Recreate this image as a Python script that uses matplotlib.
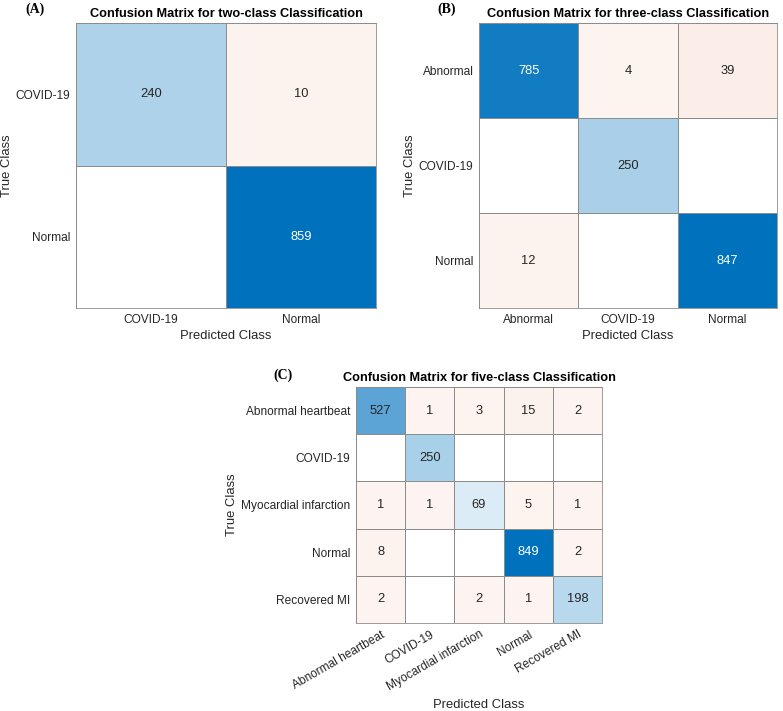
import matplotlib
matplotlib.use('Agg')
import matplotlib.pyplot as plt
import numpy as np

plt.rcParams['font.family'] = ['Liberation Sans', 'DejaVu Sans']

# ---- data ----
classes_a = ['COVID-19', 'Normal']
cm_a = [[240, 10],
        [0, 859]]

classes_b = ['Abnormal', 'COVID-19', 'Normal']
cm_b = [[785, 4, 39],
        [0, 250, 0],
        [12, 0, 847]]

classes_c = ['Abnormal heartbeat', 'COVID-19', 'Myocardial infarction', 'Normal', 'Recovered MI']
cm_c = [[527, 1, 3, 15, 2],
        [0, 250, 0, 0, 0],
        [1, 1, 69, 5, 1],
        [8, 0, 0, 849, 2],
        [2, 0, 2, 1, 198]]

titles = ['Confusion Matrix for two-class Classification',
          'Confusion Matrix for three-class Classification',
          'Confusion Matrix for five-class Classification']

diag_col = np.array([0, 114, 189]) / 255.0
off_col = np.array([217, 83, 25]) / 255.0
txt_col = '#262626'
grid_col = '#8c8c8c'
fs = 8.6


def cell_colors(cm):
    cm = np.array(cm, dtype=float)
    mx = cm.max()
    n = cm.shape[0]
    img = np.ones((n, n, 3))
    for i in range(n):
        for j in range(n):
            v = cm[i, j]
            if v <= 0:
                continue
            base = diag_col if i == j else off_col
            t = 0.06 + 0.94 * v / mx
            img[i, j] = 1 - t * (1 - base)
    return img


def draw_cm(ax, cm, classes, title, rotate=False):
    arr = np.array(cm)
    n = len(classes)
    edges = np.arange(n + 1) - 0.5
    ax.pcolormesh(edges, edges, cell_colors(cm), edgecolors=grid_col, linewidth=0.5)
    mx = arr.max()
    for i in range(n):
        for j in range(n):
            v = arr[i, j]
            if v == 0:
                continue
            c = 'white' if v / mx > 0.8 else txt_col
            ax.text(j, i, str(v), ha='center', va='center', fontsize=9.3, color=c)
    ax.set_xticks(np.arange(n))
    ax.set_yticks(np.arange(n))
    ax.set_yticklabels(classes, fontsize=fs, color=txt_col)
    if rotate:
        ax.set_xticklabels(classes, fontsize=fs, color=txt_col, rotation=30,
                           ha='right', rotation_mode='anchor')
    else:
        ax.set_xticklabels(classes, fontsize=fs, color=txt_col)
    ax.tick_params(which='both', length=0, pad=4)
    for s in ax.spines.values():
        s.set_color(grid_col)
        s.set_linewidth(0.6)
    ax.set_xlim(-0.5, n - 0.5)
    ax.set_ylim(n - 0.5, -0.5)
    ax.set_title(title, fontsize=9.2, fontweight='bold', color='black', pad=4)
    ax.set_xlabel('Predicted Class', fontsize=9.4, color=txt_col)
    ax.set_ylabel('True Class', fontsize=9.4, color=txt_col)


fig = plt.figure(figsize=(7.83, 7.11), dpi=100)

ax_a = fig.add_axes([0.0971, 0.5668, 0.3831, 0.4008])
ax_b = fig.add_axes([0.6117, 0.5668, 0.3806, 0.4008])
ax_c = fig.add_axes([0.4547, 0.1238, 0.3142, 0.3319])

draw_cm(ax_a, cm_a, classes_a, titles[0])
draw_cm(ax_b, cm_b, classes_b, titles[1])
draw_cm(ax_c, cm_c, classes_c, titles[2], rotate=True)

ax_a.xaxis.labelpad = 3
ax_b.xaxis.labelpad = 3
ax_a.yaxis.set_label_coords(-0.21, 0.5)
ax_b.yaxis.set_label_coords(-0.211, 0.5)
ax_c.yaxis.set_label_coords(-0.48, 0.5)

serif = ['Liberation Serif', 'DejaVu Serif']
fig.text(25 / 783, 1 - 9 / 711, '(A)', fontsize=10, fontweight='bold', family=serif,
         ha='left', va='center')
fig.text(437 / 783, 1 - 9 / 711, '(B)', fontsize=10, fontweight='bold', family=serif,
         ha='left', va='center')
fig.text(273 / 783, 1 - 375 / 711, '(C)', fontsize=10, fontweight='bold', family=serif,
         ha='left', va='center')

fig.savefig('out.png', dpi=100)
